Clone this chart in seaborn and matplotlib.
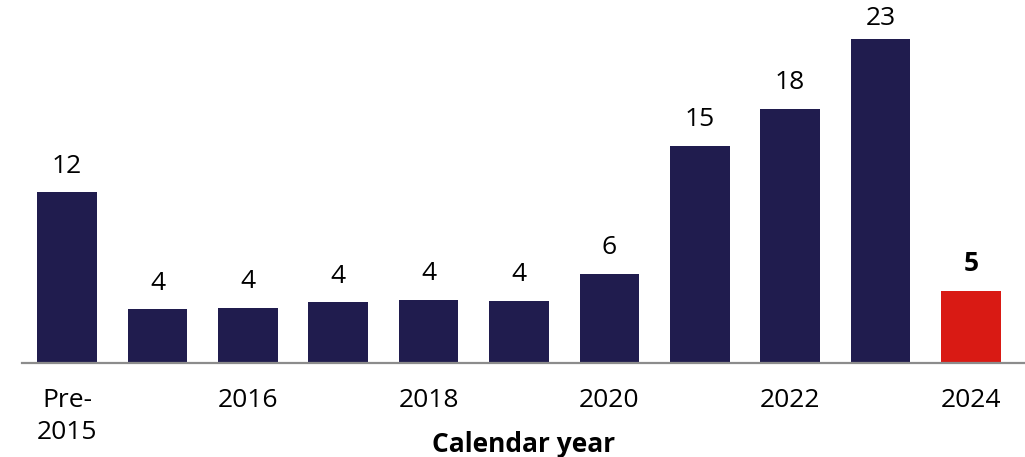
import matplotlib.pyplot as plt
import seaborn as sns
import pandas as pd

# data
categories = ['Pre-2015', '2015', '2016', '2017', '2018', '2019',
              '2020', '2021', '2022', '2023', '2024']
values = [12.1, 3.8, 3.9, 4.3, 4.45, 4.4, 6.3, 15.4, 18.0, 23.0, 5.1]
value_labels = ['12', '4', '4', '4', '4', '4', '6', '15', '18', '23', '5']
tick_labels = ['Pre-\n2015', '', '2016', '', '2018', '', '2020', '', '2022', '', '2024']

NAVY = '#201c4e'
RED = '#d91a14'
bar_colors = [NAVY] * 10 + [RED]

sns.set_style('white')
plt.rcParams['font.family'] = ['Open Sans', 'DejaVu Sans']

df = pd.DataFrame({'year': categories, 'count': values})

fig = plt.figure(figsize=(10.25, 4.57), dpi=100)
ax = fig.add_axes([22 / 1025, 94 / 457, 1003 / 1025, 363 / 457])

sns.barplot(data=df, x='year', y='count', hue='year', order=categories,
            palette=bar_colors, legend=False, width=0.66, linewidth=0,
            saturation=1, ax=ax)

# value labels above bars (last one in bold, tallest one squeezed under the top)
bars = sorted([p for p in ax.patches if p.get_height() > 0], key=lambda p: p.get_x())
top = max(values)
for i, (p, lab) in enumerate(zip(bars, value_labels)):
    off = 6 if p.get_height() == top else 10
    ax.annotate(lab, (p.get_x() + p.get_width() / 2, p.get_height()),
                xytext=(0, off), textcoords='offset points',
                ha='center', va='bottom', fontsize=19, color='black',
                fontweight='bold' if i == len(bars) - 1 else 'normal')

ax.set_xlim(-0.5, 10.6)
ax.set_ylim(0, 25.76)
ax.set_xticks(range(len(categories)))
ax.set_xticklabels(tick_labels, fontsize=19, linespacing=1.35, color='black')
ax.tick_params(axis='x', length=0, pad=18)
ax.set_yticks([])
ax.set_ylabel('')
ax.set_xlabel('Calendar year', fontsize=19, fontweight='bold', va='baseline', color='black')
ax.xaxis.set_label_coords(0.5, -89 / 363)

for s in ['top', 'right', 'left']:
    ax.spines[s].set_visible(False)
ax.spines['bottom'].set_color('#8c8c8c')
ax.spines['bottom'].set_linewidth(1.6)

fig.savefig('out.png', dpi=100)
